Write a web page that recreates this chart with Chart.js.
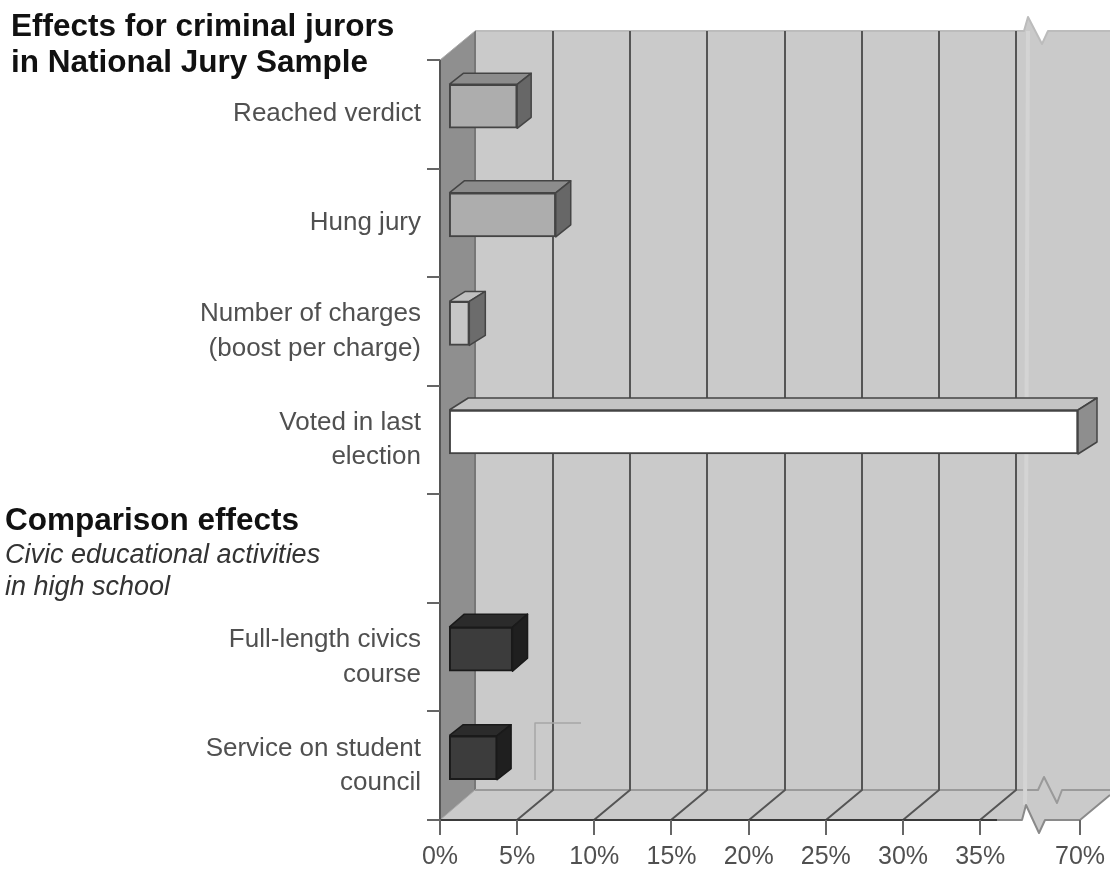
<!DOCTYPE html>
<html>
<head>
<meta charset="utf-8">
<title>Effects for criminal jurors</title>
<script src="https://cdn.jsdelivr.net/npm/chart.js@4"></script>
<style>
    html, body { margin: 0; padding: 0; background: #fff; }
    canvas { display: block; }
</style>
</head>
<body>
<canvas id="myBarChart" width="1110" height="871"></canvas>
<script>
// Chart values.
const categories = [
    'Reached verdict',
    'Hung jury',
    ['Number of charges', '(boost per charge)'],
    ['Voted in last', 'election'],
    '',
    ['Full-length civics', 'course'],
    ['Service on student', 'council']
];
const effectValues = [5, 7.5, 1.9, 69.3, null, 4.7, 3.7];
const tickValues = [0, 5, 10, 15, 20, 25, 30, 35, 70];
const tickLabels = ['0%', '5%', '10%', '15%', '20%', '25%', '30%', '35%', '70%'];
const juryHeading = ['Effects for criminal jurors', 'in National Jury Sample'];
const comparisonHeading = 'Comparison effects';
const comparisonSubheading = ['Civic educational activities', 'in high school'];

const barFront = ['#adadad', '#adadad', '#c6c6c6', '#ffffff', '#000000', '#3c3c3c', '#3c3c3c'];
const barTop = ['#8c8c8c', '#8c8c8c', '#c0c0c0', '#c4c4c4', '#000000', '#2b2b2b', '#2b2b2b'];
const barSide = ['#676767', '#676767', '#6c6c6c', '#8e8e8e', '#000000', '#1f1f1f', '#1f1f1f'];
const barDepthX = [14, 15, 16, 19, 0, 15, 14];
const barDepthY = [11, 12, 10, 12, 0, 13, 11];

const depthX = 35;
const depthY = -30;

// Linear axis with a break: everything past 35% is squeezed into the last stretch.
class BrokenScale extends Chart.LinearScale {
    getPixelForValue(value) {
        const breakFraction = 0.844;
        const fraction = value <= 35
            ? value / 35 * breakFraction
            : breakFraction + (value - 35) / 35 * (1 - breakFraction);
        return this.left + fraction * this.width;
    }
    getValueForPixel(pixel) {
        const breakFraction = 0.844;
        const fraction = (pixel - this.left) / this.width;
        return fraction <= breakFraction
            ? fraction / breakFraction * 35
            : 35 + (fraction - breakFraction) / (1 - breakFraction) * 35;
    }
}
BrokenScale.id = 'broken';
BrokenScale.defaults = {};

// Category axis whose pixels sit a bit up the depth of the 3D box.
class ShiftedCategoryScale extends Chart.CategoryScale {
    getPixelForValue(value, index) {
        return super.getPixelForValue(value, index) + (this.options.shift || 0);
    }
}
ShiftedCategoryScale.id = 'shiftedCategory';
ShiftedCategoryScale.defaults = {};

Chart.register(BrokenScale, ShiftedCategoryScale);

function fillPoly(ctx, points, color) {
    ctx.beginPath();
    points.forEach((p, i) => i ? ctx.lineTo(p[0], p[1]) : ctx.moveTo(p[0], p[1]));
    ctx.closePath();
    ctx.fillStyle = color;
    ctx.fill();
}

function strokeLine(ctx, points, color, width) {
    ctx.beginPath();
    points.forEach((p, i) => i ? ctx.lineTo(p[0], p[1]) : ctx.moveTo(p[0], p[1]));
    ctx.strokeStyle = color;
    ctx.lineWidth = width;
    ctx.lineJoin = 'round';
    ctx.stroke();
}

const boxPlugin = {
    id: 'box3d',
    beforeDraw(chart) {
        const { ctx, chartArea: area, scales } = chart;
        const backLeft = area.left + depthX;
        const backTop = area.top + depthY + 1;
        const backBottom = area.bottom + depthY;
        const right = chart.width;
        ctx.save();

        // back wall and floor, with the axis break cut into their edges
        fillPoly(ctx, [[backLeft, backTop], [1024, backTop], [1028, 17], [1042, 44], [1048, backTop],
            [right, backTop], [right, backBottom + 5], [1080, area.bottom], [1045, area.bottom], [1039, 833],
            [1026, 805], [1022, area.bottom], [area.left, area.bottom]], '#cacaca');
        strokeLine(ctx, [[backLeft, backTop], [1024, backTop], [1028, 17], [1042, 44], [1048, backTop], [right, backTop]], '#bcbcbc', 2);

        // left wall
        fillPoly(ctx, [[area.left, area.top], [backLeft, backTop], [backLeft, backBottom], [area.left, area.bottom]], '#8f8f8f');
        strokeLine(ctx, [[backLeft, backTop], [backLeft, backBottom]], '#777777', 2);
        strokeLine(ctx, [[area.left, area.top], [backLeft, backTop]], '#aaaaaa', 1);
        strokeLine(ctx, [[area.left, area.bottom], [backLeft, backBottom]], '#aaaaaa', 1);

        // floor back edge
        strokeLine(ctx, [[backLeft, backBottom], [1038, backBottom], [1044, 777], [1057, 803], [1062, backBottom], [right, backBottom]], '#9a9a9a', 2);
        strokeLine(ctx, [[1028, backTop], [1025, 805]], '#d4d4d4', 4);

        // grid lines up the back wall and across the floor
        tickValues.filter(v => v > 0 && v <= 35).forEach(v => {
            const px = Math.round(scales.x.getPixelForValue(v));
            strokeLine(ctx, [[px, area.bottom], [px + depthX + 1, backBottom], [px + depthX + 1, backTop]], '#555555', 2);
        });

        // front edge of the floor after the last dark stretch
        strokeLine(ctx, [[area.left, area.bottom], [997, area.bottom]], '#3a3a3a', 2);
        strokeLine(ctx, [[997, area.bottom], [1022, area.bottom], [1026, 805], [1039, 833], [1045, area.bottom], [1080, area.bottom], [right, backBottom + 5]], '#8a8a8a', 2);
        strokeLine(ctx, [[area.left, area.top], [area.left, area.bottom]], '#555555', 2);

        // stray marks left in the scan
        strokeLine(ctx, [[535, 780], [535, 723], [581, 723]], '#a6a6a6', 1.5);
        ctx.restore();
    },
    afterDatasetsDraw(chart) {
        const { ctx } = chart;
        const bars = chart.getDatasetMeta(0).data;
        ctx.save();
        bars.forEach((bar, i) => {
            if (effectValues[i] === null) return;
            const dx = barDepthX[i];
            const dy = -barDepthY[i];
            const left = bar.base;
            const right = bar.x;
            const top = bar.y - bar.height / 2;
            const bottom = bar.y + bar.height / 2;
            const edge = i >= 5 ? '#1a1a1a' : '#444444';
            const topFace = [[left, top], [left + dx, top + dy], [right + dx, top + dy], [right, top]];
            const sideFace = [[right, top], [right + dx, top + dy], [right + dx, bottom + dy], [right, bottom]];
            fillPoly(ctx, topFace, barTop[i]);
            strokeLine(ctx, topFace.concat([topFace[0]]), edge, 1.5);
            fillPoly(ctx, sideFace, barSide[i]);
            strokeLine(ctx, sideFace.concat([sideFace[0]]), edge, 1.5);
        });
        ctx.restore();
    },
    afterDraw(chart) {
        const { ctx } = chart;
        ctx.save();
        ctx.textAlign = 'left';
        ctx.textBaseline = 'alphabetic';
        ctx.fillStyle = '#111111';
        ctx.font = 'bold 31.5px "Liberation Sans"';
        ctx.fillText(juryHeading[0], 11, 36);
        ctx.fillText(juryHeading[1], 11, 72);
        ctx.fillText(comparisonHeading, 5, 530);
        ctx.fillStyle = '#333333';
        ctx.font = 'italic 27px "Liberation Sans"';
        ctx.fillText(comparisonSubheading[0], 5, 563);
        ctx.fillText(comparisonSubheading[1], 5, 595);
        ctx.restore();
    }
};

const barChartData = {
    labels: categories,
    datasets: [{
        label: 'Effect',
        data: effectValues,
        xAxisID: 'x',
        yAxisID: 'yBar',
        base: 0.6,
        backgroundColor: barFront,
        borderColor: (c) => c.dataIndex >= 5 ? '#1a1a1a' : '#444444',
        borderWidth: 2,
        borderSkipped: false,
        barThickness: 44
    }]
};

const barChartConfig = {
    type: 'bar',
    data: barChartData,
    plugins: [boxPlugin],
    options: {
        indexAxis: 'y',
        responsive: false,
        animation: false,
        devicePixelRatio: 1,
        layout: { padding: { top: 60, right: 30, left: 0, bottom: 0 } },
        scales: {
            x: {
                type: 'broken',
                min: 0,
                max: 70,
                afterBuildTicks: (axis) => { axis.ticks = tickValues.map(value => ({ value })); },
                afterFit: (axis) => { axis.height = 51; axis.paddingRight = 0; axis.paddingLeft = 0; },
                grid: { drawOnChartArea: false, drawTicks: true, tickLength: 15, color: '#666666', lineWidth: 2 },
                border: { display: false },
                ticks: {
                    autoSkip: false,
                    maxRotation: 0,
                    padding: 7,
                    color: '#505050',
                    font: { family: '"Liberation Sans"', size: 25 },
                    callback: (value, index) => tickLabels[index]
                }
            },
            y: {
                type: 'category',
                offset: true,
                afterFit: (axis) => { axis.width = 440; },
                grid: { offset: true, drawOnChartArea: false, drawTicks: true, tickLength: 13, color: '#666666', lineWidth: 2 },
                border: { display: false },
                ticks: {
                    autoSkip: false,
                    padding: 6,
                    color: '#505050',
                    font: { family: '"Liberation Sans"', size: 26, lineHeight: 1.33 }
                }
            },
            yBar: { type: 'shiftedCategory', offset: true, shift: -8, display: false, axis: 'y' }
        },
        plugins: {
            legend: { display: false },
            title: { display: false },
            tooltip: { enabled: false }
        }
    }
};

new Chart(
    document.getElementById('myBarChart'),
    barChartConfig
);
</script>
</body>
</html>
